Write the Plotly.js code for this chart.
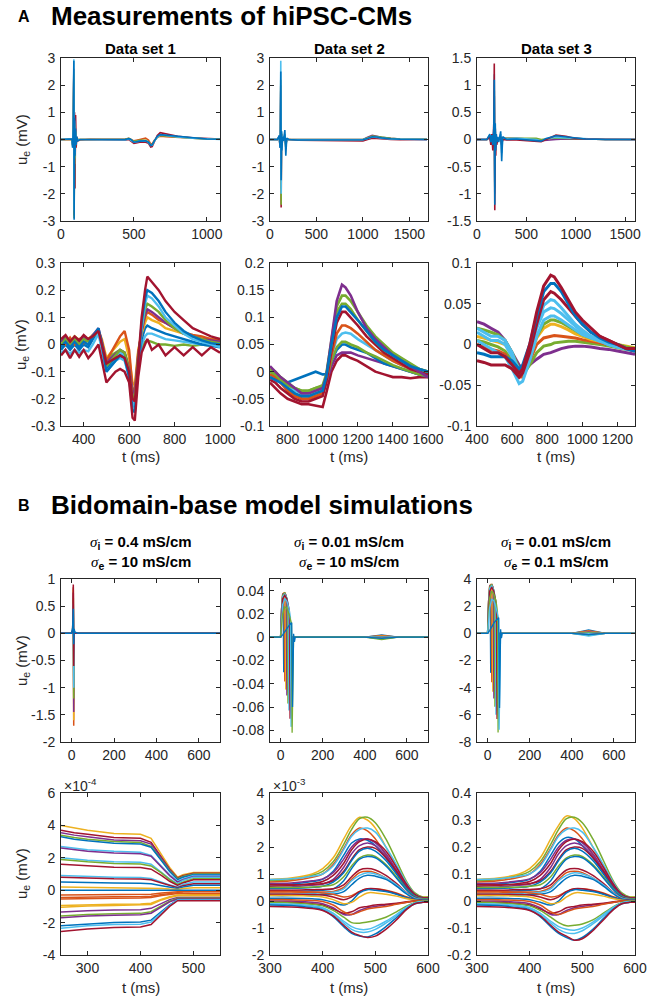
<!DOCTYPE html>
<html><head><meta charset="utf-8">
<script src="https://cdn.plot.ly/plotly-3.0.1.min.js"></script>
<style>html,body{margin:0;padding:0;background:#fff}#chart{width:650px;height:998px}</style>
</head><body><div id="chart"></div>
<script>
// ================= DATA =================
// ---- A1: Data set 1, full recording ----
const a1T = [0,60,75,80,84,88,90,93,96,100,104,108,115,130,200,300,440,465,480,500,540,580,600,615,625,640,660,680,720,800,900,1000,1090];
const a1Red    = [0,-0.02,0,-0.2,0.3,2.6,-2.0,1.0,-1.8,0.9,-0.3,0.1,-0.05,-0.02,0,-0.02,-0.03,0,-0.06,-0.14,-0.1,-0.1,-0.14,-0.28,-0.26,-0.1,0.15,0.25,0.2,0.12,0.06,0.03,0.02];
const a1Orange = [0,0,0.01,-0.2,0.3,2.4,-2.8,0.5,-0.9,0.3,-0.1,0.05,0,0,0.01,0.01,0.02,0.04,0,-0.05,0,0.05,-0.02,-0.16,-0.15,-0.03,0.08,0.12,0.1,0.07,0.04,0.02,0.015];
const a1Green  = [0,0,0.01,-0.25,0.35,2.5,-2.9,0.6,-0.7,0.3,-0.15,0.05,0,0,0,0,0.01,0.04,0,-0.07,-0.03,-0.03,-0.09,-0.2,-0.19,-0.05,0.08,0.15,0.13,0.09,0.05,0.02,0.01];
const a1Cyan   = [0,0,0.02,-0.3,0.4,2.95,-2.6,0.7,-0.5,0.3,-0.1,0.05,0,0,0,0,-0.02,0.02,-0.02,-0.1,-0.06,-0.05,-0.1,-0.22,-0.21,-0.06,0.08,0.17,0.15,0.09,0.05,0.02,0];
const a1Blue   = [0,0,0.02,-0.3,0.4,2.9,-2.95,0.8,-0.6,0.4,-0.2,0.1,-0.05,0,0,0,0,0.03,0,-0.1,-0.06,-0.05,-0.1,-0.22,-0.2,-0.05,0.12,0.18,0.16,0.1,0.05,0.02,0.01];
const a1Series = [a1Red,a1Orange,a1Green,a1Cyan,a1Blue];
const a1Colors = ['r','o','g','c','b'];

// ---- A2: Data set 2, full recording ----
const a2T = [0,80,100,108,112,116,120,124,128,135,145,160,170,180,200,300,600,900,1000,1050,1100,1150,1200,1300,1400,1690];
const a2Purple = [0,0,0.1,-0.2,0.1,1.8,-1.8,0.2,-0.3,0.05,0,0.1,-0.2,0,0,0,0,-0.02,0,0.08,0.15,0.12,0.08,0.04,0.02,0];
const a2Red    = [0,0,0.1,-0.3,0.1,2.0,-2.5,0.2,-0.3,0.1,0,0.1,-0.2,0,0,-0.03,-0.05,-0.06,-0.05,0,0.05,0.04,0.02,0,-0.01,0];
const a2Green  = [0,0,0.1,-0.25,0.15,2.2,-2.4,0.25,-0.3,0.1,0,0.15,-0.3,0.02,0,0,-0.01,-0.02,0,0.06,0.13,0.11,0.08,0.04,0.02,0.01];
const a2Cyan   = [0,0,0.12,-0.3,0.2,2.9,-2.0,0.3,-0.35,0.1,0,0.2,-0.3,0.02,0,-0.01,-0.02,-0.03,-0.01,0.04,0.09,0.08,0.05,0.02,0.01,0];
const a2Blue   = [0,0,0.15,-0.3,0.2,2.5,-1.5,0.3,-0.4,0.1,-0.05,0.35,-0.6,0.05,0,-0.02,-0.02,-0.03,-0.01,0.04,0.1,0.09,0.06,0.03,0.01,0];
const a2Series = [a2Purple,a2Red,a2Green,a2Cyan,a2Blue];
const a2Colors = ['p','r','g','c','b'];

// ---- A3: Data set 3, full recording ----
const a3T = [0,100,130,140,150,160,170,175,180,185,190,195,200,210,220,240,250,260,300,400,500,600,650,700,800,900,1000,1100,1300,1600];
const a3Purple = [0,0,0.03,-0.03,0.03,-0.05,0.1,0.8,-0.8,0.1,-0.1,0.05,0,0.01,0,0.03,-0.05,0.01,0.02,0.02,0.01,0,-0.02,-0.01,0,0.01,0.01,0,0,0];
const a3Green  = [0,0,0.05,-0.03,0.05,-0.05,0.1,0.9,-0.9,0.15,-0.1,0.05,0,0.02,0,0.05,-0.1,0.02,0.02,0.03,0.03,0.02,0,0.01,0.03,0.02,0.01,0.01,0,0];
const a3Cyan   = [0,0,0.08,-0.05,0.05,-0.1,0.15,1.2,-1.0,0.2,-0.15,0.05,-0.05,0.02,0,0.1,-0.25,0.02,0.01,0.02,0.01,0,-0.03,0.01,0.04,0.03,0.02,0.01,0,0];
const a3Red    = [0,0,0.05,-0.1,0.1,-0.2,0.3,1.4,-1.3,0.2,-0.3,0.1,-0.1,0,0,0.05,-0.1,0,-0.01,-0.01,-0.02,-0.03,-0.04,0,0.08,0.06,0.02,0.01,0,0];
const a3Blue   = [0,0,0.1,-0.05,0.08,-0.1,0.2,1.1,-1.2,0.3,-0.2,0.1,-0.05,0.05,-0.05,0.15,-0.4,0.05,0,0.01,0,-0.02,-0.03,0.02,0.07,0.05,0.02,0.01,0,0];
const a3Series = [a3Purple,a3Green,a3Cyan,a3Red,a3Blue];
const a3Colors = ['p','g','c','r','b'];

// ---- A4: Data set 1, zoom ----
const a4T = [300,320,340,360,380,400,420,440,465,480,500,520,540,560,580,600,615,625,640,655,670,680,700,730,760,800,840,880,920,960,1000];
const a4Green2 = [0.015,0.03,0.01,0.03,0.015,0.03,0.02,0.03,0.05,0,-0.06,-0.04,-0.03,-0.02,-0.03,-0.08,-0.18,-0.19,-0.06,-0.01,0.01,0.015,0.01,0,0,-0.005,0,-0.005,0,-0.005,0];
const a4Cyan2  = [-0.01,0.01,-0.015,0.01,-0.01,0.01,-0.005,0.02,0.045,-0.01,-0.08,-0.06,-0.04,-0.03,-0.04,-0.1,-0.2,-0.21,-0.06,0,0.03,0.04,0.04,0.03,0.02,0.015,0.01,0.005,0,0,-0.005];
const a4Blue2  = [-0.02,0,-0.02,0,-0.02,0,-0.01,0.02,0.05,-0.01,-0.09,-0.07,-0.05,-0.04,-0.05,-0.11,-0.22,-0.23,-0.08,0.02,0.06,0.07,0.06,0.05,0.04,0.03,0.02,0.01,0,-0.005,-0.01];
const a4Yellow = [0.01,0.03,0.01,0.03,0.015,0.03,0.02,0.035,0.05,0.02,-0.05,-0.03,-0.01,0.01,0.02,-0.05,-0.14,-0.15,-0.02,0.04,0.08,0.1,0.09,0.08,0.06,0.05,0.04,0.03,0.025,0.02,0.02];
const a4Orange = [0.02,0,0.025,0,0.02,0.005,0.02,0.03,0.05,0.01,-0.06,-0.03,0,0.03,0.05,-0.02,-0.16,-0.17,-0.03,0.05,0.1,0.12,0.11,0.09,0.08,0.06,0.045,0.035,0.03,0.02,0.015];
const a4Purple = [0.01,0.025,0.005,0.025,0.01,0.025,0.015,0.035,0.06,0.01,-0.07,-0.05,-0.035,-0.02,-0.03,-0.09,-0.17,-0.18,-0.04,0.05,0.11,0.13,0.12,0.1,0.08,0.06,0.04,0.03,0.02,0.015,0.01];
const a4Green1 = [0,0.02,0,0.02,0,0.02,0.01,0.03,0.05,0,-0.08,-0.06,-0.04,-0.02,-0.03,-0.1,-0.19,-0.2,-0.05,0.06,0.13,0.15,0.14,0.12,0.09,0.06,0.04,0.03,0.02,0.01,0.005];
const a4Cyan1  = [-0.03,-0.02,-0.035,-0.02,-0.03,-0.02,-0.025,0,0.04,-0.02,-0.1,-0.08,-0.06,-0.05,-0.06,-0.12,-0.22,-0.23,-0.07,0.06,0.15,0.18,0.17,0.14,0.1,0.07,0.04,0.02,0.01,0,-0.01];
const a4Blue1  = [-0.01,0.01,-0.01,0.01,-0.01,0.01,0,0.03,0.06,0,-0.1,-0.08,-0.06,-0.04,-0.05,-0.12,-0.24,-0.25,-0.08,0.08,0.17,0.2,0.19,0.16,0.12,0.08,0.05,0.03,0.015,0.005,0];
const a4Red1   = [0.02,0.035,0.01,0.03,0.015,0.035,0.02,0.03,0.05,0,-0.07,-0.06,-0.05,-0.04,-0.05,-0.1,-0.2,-0.21,-0.06,0.1,0.2,0.25,0.23,0.2,0.16,0.12,0.09,0.06,0.045,0.03,0.02];
const a4Red2   = [-0.04,-0.02,-0.05,-0.02,-0.045,-0.02,-0.05,-0.03,0,-0.06,-0.14,-0.12,-0.1,-0.09,-0.1,-0.14,-0.27,-0.28,-0.12,-0.03,0,0.02,-0.02,0,-0.04,-0.01,-0.04,-0.01,-0.04,-0.01,-0.03];
const a4Series = [a4Green2,a4Cyan2,a4Blue2,a4Yellow,a4Orange,a4Purple,a4Green1,a4Cyan1,a4Blue1,a4Red1,a4Red2];
const a4Colors = ['g','c','b','y','o','p','g','c','b','r','r'];

// ---- A5: Data set 2, zoom ----
const a5T = [700,730,760,800,840,880,920,960,1000,1020,1050,1080,1110,1130,1160,1200,1250,1300,1350,1400,1450,1500,1550,1600];
const a5Red2   = [-0.02,-0.03,-0.04,-0.05,-0.055,-0.06,-0.06,-0.063,-0.065,-0.04,0,0.02,0.03,0.03,0.025,0.02,0.01,0,-0.005,-0.01,-0.01,-0.012,-0.01,-0.01];
const a5Purple2= [0,-0.005,-0.015,-0.03,-0.04,-0.05,-0.05,-0.045,-0.04,-0.02,0.01,0.03,0.035,0.035,0.035,0.03,0.025,0.02,0.015,0.01,0.005,0,-0.005,-0.01];
const a5Blue2  = [-0.01,-0.015,-0.02,-0.02,-0.015,-0.01,-0.005,0,-0.005,-0.005,0.02,0.04,0.05,0.05,0.045,0.04,0.035,0.025,0.015,0.01,0.005,0,-0.005,-0.008];
const a5Green3 = [-0.005,-0.01,-0.02,-0.03,-0.04,-0.045,-0.045,-0.04,-0.035,-0.015,0.02,0.045,0.055,0.055,0.05,0.045,0.035,0.028,0.02,0.012,0.006,0,-0.005,-0.008];
const a5Cyan1  = [0,-0.005,-0.015,-0.025,-0.035,-0.04,-0.04,-0.035,-0.03,-0.01,0.03,0.06,0.07,0.072,0.07,0.06,0.05,0.04,0.03,0.02,0.012,0.005,0,-0.005];
const a5Orange = [-0.005,-0.01,-0.02,-0.035,-0.045,-0.05,-0.05,-0.045,-0.04,-0.02,0.03,0.07,0.085,0.085,0.08,0.07,0.055,0.04,0.03,0.02,0.012,0.005,0,-0.005];
const a5Red1   = [-0.015,-0.02,-0.03,-0.04,-0.05,-0.055,-0.055,-0.05,-0.045,-0.02,0.04,0.09,0.11,0.11,0.1,0.085,0.065,0.05,0.035,0.025,0.015,0.005,0,-0.005];
const a5Green2 = [0.005,0,-0.01,-0.02,-0.03,-0.035,-0.035,-0.03,-0.028,-0.01,0.05,0.11,0.125,0.125,0.115,0.095,0.075,0.055,0.04,0.03,0.02,0.01,0.005,0];
const a5Green1 = [0,-0.005,-0.015,-0.025,-0.03,-0.035,-0.035,-0.03,-0.025,-0.005,0.06,0.12,0.14,0.14,0.13,0.11,0.085,0.065,0.05,0.035,0.025,0.015,0.005,0];
const a5Purple1= [0.01,0,-0.01,-0.02,-0.03,-0.04,-0.04,-0.035,-0.03,-0.01,0.06,0.13,0.16,0.155,0.14,0.11,0.08,0.06,0.045,0.03,0.02,0.01,0,-0.01];
const a5Blue1  = [-0.01,-0.015,-0.02,-0.03,-0.04,-0.045,-0.045,-0.04,-0.035,-0.01,0.05,0.1,0.12,0.12,0.11,0.095,0.075,0.055,0.04,0.03,0.02,0.01,0.005,0];
const a5Series = [a5Red2,a5Purple2,a5Blue2,a5Green3,a5Cyan1,a5Orange,a5Red1,a5Green2,a5Green1,a5Purple1,a5Blue1];
const a5Colors = ['r','p','b','g','c','o','r','g','g','p','b'];

// ---- A6: Data set 3, zoom ----
const a6T = [400,440,480,520,560,600,640,660,700,740,780,820,840,880,920,960,1000,1050,1100,1150,1200,1250,1300];
const a6Purple = [0.028,0.025,0.02,0.015,0.005,-0.01,-0.025,-0.03,-0.025,-0.018,-0.012,-0.01,-0.008,-0.005,-0.003,-0.002,-0.002,-0.003,-0.005,-0.006,-0.008,-0.01,-0.012];
const a6Green2 = [0.005,0.003,0,-0.003,-0.008,-0.02,-0.035,-0.038,-0.025,-0.01,-0.002,0,0.002,0.003,0.004,0.004,0.003,0.002,0,-0.002,-0.004,-0.006,-0.008];
const a6Orange = [0,-0.003,-0.006,-0.008,-0.012,-0.025,-0.04,-0.04,-0.02,0,0.008,0.01,0.011,0.01,0.009,0.008,0.006,0.004,0.002,0,-0.002,-0.004,-0.005];
const a6Yellow = [0.01,0.008,0.005,0.003,0,-0.012,-0.035,-0.035,-0.015,0.008,0.02,0.025,0.025,0.022,0.018,0.013,0.01,0.006,0.004,0.002,0,-0.002,-0.004];
const a6Green1 = [0.02,0.018,0.015,0.012,0.005,-0.01,-0.03,-0.03,-0.01,0.01,0.025,0.03,0.03,0.027,0.022,0.017,0.012,0.008,0.005,0.002,0,-0.003,-0.005];
const a6Cyan3  = [0.005,0,-0.005,-0.01,-0.015,-0.03,-0.048,-0.045,-0.02,0.01,0.03,0.035,0.035,0.03,0.024,0.018,0.012,0.008,0.004,0,-0.003,-0.006,-0.008];
const a6Cyan2  = [0.02,0.015,0.01,0.01,0.005,-0.01,-0.035,-0.035,-0.01,0.02,0.04,0.045,0.044,0.038,0.03,0.022,0.015,0.01,0.005,0,-0.003,-0.005,-0.008];
const a6Cyan1  = [0.015,0.01,0.005,0.005,0,-0.015,-0.03,-0.028,-0.005,0.025,0.048,0.055,0.054,0.045,0.035,0.025,0.018,0.01,0.005,0,-0.003,-0.005,-0.008];
const a6Red2   = [-0.02,-0.022,-0.025,-0.025,-0.025,-0.03,-0.04,-0.035,-0.01,0.025,0.055,0.065,0.063,0.055,0.045,0.035,0.025,0.015,0.01,0.005,0,-0.005,-0.008];
const a6Blue1  = [-0.01,-0.012,-0.015,-0.015,-0.015,-0.02,-0.03,-0.025,0,0.035,0.065,0.075,0.075,0.065,0.05,0.035,0.025,0.015,0.008,0.003,0,-0.005,-0.008];
const a6Red1   = [0,-0.005,-0.01,-0.01,-0.015,-0.025,-0.035,-0.03,0,0.04,0.072,0.085,0.083,0.07,0.055,0.04,0.03,0.02,0.01,0.005,0,-0.005,-0.005];
const a6Series = [a6Purple,a6Green2,a6Orange,a6Yellow,a6Green1,a6Cyan3,a6Cyan2,a6Cyan1,a6Red2,a6Blue1,a6Red1];
const a6Colors = ['p','g','o','y','g','c','c','c','r','b','r'];

// ---- B1: sigma_i 0.4, sigma_e 10 (full) ----
const b1T = [-50,0,5,8,10,12,15,30,700];
const b1Series = [
  [0,0,0.05,0.85,-1.7,0.05,0,0,0],
  [0,0,0.05,0.8,-1.6,0.05,0,0,0],
  [0,0,0.05,0.75,-1.45,0.05,0,0,0],
  [0,0,0.05,0.65,-1.2,0.05,0,0,0],
  [0,0,0.05,0.55,-1.0,0.05,0,0,0],
  [0,0,0.05,0.9,-0.6,0.05,0,0,0],
  [0,0,0.1,0.45,-0.2,0.08,0.02,0,0]
];
const b1Colors = ['o','y','p','g','c','r','b'];

// ---- B2: sigma_i 0.01, sigma_e 10 (full) ----
const b2X = [
  [-50,0,5,10,12,15,60,400,480,560,700],
  [-50,0,5,10,17,20,60,400,480,560,700],
  [-50,0,5,10,15,22,25,60,400,480,560,700],
  [-50,0,5,10,20,27,30,60,400,480,560,700],
  [-50,0,5,10,20,32,35,60,400,480,560,700],
  [-50,0,5,10,20,30,37,40,60,400,480,560,700],
  [-50,0,5,10,20,30,42,45,60,400,480,560,700],
  [-50,0,5,10,20,30,40,47,50,60,400,480,560,700],
  [-50,0,5,10,20,30,40,52,55,62,400,480,560,700],
  [-50,0,10,20,30,40,50,53,57,62,66,70,100,400,480,560,700]
];
const b2Y = [
  [0,0,0.025,0.037,0.037,-0.03,0,0,0.002,0,0],
  [0,0,0.025,0.037,0.038,-0.038,0,0,0.0015,0,0],
  [0,0,0.025,0.037,0.038,0.038,-0.045,0,0,0.001,0,0],
  [0,0,0.025,0.037,0.038,0.036,-0.05,0,0,0.0005,0,0],
  [0,0,0.024,0.036,0.038,0.033,-0.057,0,0,0,0,0],
  [0,0,0.022,0.035,0.037,0.034,0.028,-0.063,0,0,-0.0005,0,0],
  [0,0,0.02,0.033,0.036,0.033,0.023,-0.07,0,0,-0.001,0,0],
  [0,0,0.015,0.028,0.033,0.031,0.025,0.017,-0.077,0,0,-0.0015,0,0],
  [0,0,0.01,0.02,0.026,0.025,0.02,0.012,-0.082,0,0,-0.002,0,0],
  [0,0,0.002,0.005,0.008,0.01,0.012,0.012,-0.06,0.003,-0.004,0,0,0,-0.001,0,0]
];
const b2Colors = ['b','o','y','p','g','c','r','c','g','b'];

// ---- B3: sigma_i 0.01, sigma_e 0.1 (full) ----
const b3X = b2X;
const b3Y = [
  [0,0,2.4,3.5,3.5,-2.9,0,0,0.25,0,0],
  [0,0,2.4,3.5,3.6,-3.6,0,0,0.2,0,0],
  [0,0,2.4,3.5,3.6,3.6,-4.3,0,0,0.15,0,0],
  [0,0,2.4,3.5,3.6,3.4,-4.8,0,0,0.1,0,0],
  [0,0,2.3,3.4,3.6,3.1,-5.4,0,0,0.05,0,0],
  [0,0,2.1,3.3,3.5,3.2,2.6,-6.0,0,0,-0.05,0,0],
  [0,0,1.9,3.1,3.4,3.1,2.2,-6.3,0,0,-0.1,0,0],
  [0,0,1.4,2.6,3.1,2.9,2.4,1.6,-7.3,0,0,-0.15,0,0],
  [0,0,0.9,1.9,2.5,2.4,1.9,1.15,-7.1,0,0,-0.2,0,0],
  [0,0,0.2,0.5,0.75,0.95,1.15,1.15,-5.5,0.3,-0.35,0,0,0,-0.1,0,0]
];
const b3Colors = ['b','o','y','p','g','c','r','g','c','b'];

// ---- B4: zoom, values in units of 1e-4 mV ----
const b4T = [250,275,300,350,400,420,440,455,470,480,500,550];
const b4Series = [
  [4.0,3.85,3.7,3.5,3.45,3.2,2.2,1.4,0.8,0.95,1.1,1.1],
  [3.7,3.55,3.45,3.25,3.2,2.95,2.0,1.3,0.75,0.9,1.05,1.05],
  [3.55,3.4,3.3,3.1,3.05,2.85,1.95,1.25,0.7,0.85,1.0,1.0],
  [3.4,3.25,3.15,3.0,2.95,2.7,1.85,1.2,0.7,0.85,1.0,1.0],
  [3.3,3.15,3.05,2.9,2.85,2.65,1.8,1.15,0.65,0.8,0.95,0.95],
  [2.7,2.6,2.5,2.4,2.35,2.15,1.5,0.95,0.55,0.7,0.9,0.9],
  [2.6,2.5,2.4,2.3,2.25,2.1,1.45,0.9,0.5,0.65,0.85,0.85],
  [2.0,1.92,1.85,1.75,1.72,1.6,1.1,0.7,0.4,0.6,0.8,0.8],
  [1.9,1.82,1.75,1.65,1.62,1.5,1.05,0.65,0.35,0.5,0.7,0.7],
  [1.6,1.55,1.5,1.42,1.4,1.3,0.9,0.55,0.3,0.45,0.65,0.65],
  [0.9,0.87,0.84,0.8,0.78,0.72,0.5,0.32,0.2,0.35,0.5,0.5],
  [0.8,0.77,0.74,0.7,0.69,0.64,0.45,0.28,0.15,0.28,0.4,0.4],
  [0.5,0.48,0.46,0.44,0.43,0.4,0.28,0.18,0.1,0.2,0.3,0.3],
  [0.2,0.19,0.18,0.17,0.17,0.16,0.11,0.07,0.05,0.1,0.15,0.15],
  [0,0,0,0,0,0,0,0,0,0,0,0],
  [-0.3,-0.29,-0.28,-0.27,-0.27,-0.25,-0.18,-0.13,-0.1,-0.1,-0.1,-0.1],
  [-0.45,-0.43,-0.42,-0.4,-0.4,-0.37,-0.27,-0.2,-0.15,-0.18,-0.2,-0.2],
  [-0.55,-0.53,-0.51,-0.49,-0.48,-0.45,-0.33,-0.25,-0.2,-0.22,-0.25,-0.25],
  [-0.95,-0.92,-0.9,-0.86,-0.85,-0.8,-0.55,-0.4,-0.3,-0.3,-0.3,-0.3],
  [-1.05,-1.0,-0.98,-0.94,-0.93,-0.88,-0.6,-0.45,-0.35,-0.35,-0.35,-0.35],
  [-1.35,-1.3,-1.27,-1.22,-1.2,-1.12,-0.8,-0.58,-0.45,-0.45,-0.45,-0.45],
  [-1.6,-1.55,-1.5,-1.45,-1.43,-1.33,-0.95,-0.68,-0.5,-0.5,-0.5,-0.5],
  [-1.7,-1.65,-1.6,-1.55,-1.52,-1.42,-1.0,-0.72,-0.55,-0.55,-0.55,-0.55],
  [-2.2,-2.15,-2.08,-2.0,-1.97,-1.85,-1.3,-0.9,-0.6,-0.6,-0.6,-0.6],
  [-2.35,-2.28,-2.2,-2.12,-2.1,-1.97,-1.38,-0.95,-0.6,-0.6,-0.6,-0.6],
  [-2.55,-2.47,-2.4,-2.3,-2.27,-2.12,-1.48,-1.0,-0.65,-0.65,-0.65,-0.65]
];
const b4Colors = ['y','r','p','g','b','c','p','c','g','r','c','r','b','y','b','o','o','o','y','y','p','g','p','b','c','r'];

// ---- B5: zoom, values in units of 1e-3 mV ----
const b5T = [300,340,380,400,420,440,455,470,485,500,520,540,560,575,590,600];
const b5Series = [
  [0.8,0.85,1.0,1.2,1.6,2.3,2.8,3.1,3.0,2.7,2.0,1.3,0.6,0.25,0.15,0.15],
  [0.75,0.8,0.95,1.1,1.45,2.1,2.65,3.05,3.1,2.9,2.3,1.5,0.7,0.3,0.15,0.15],
  [0.7,0.75,0.88,1.0,1.35,1.95,2.45,2.7,2.6,2.3,1.7,1.1,0.5,0.2,0.12,0.12],
  [0.8,0.82,0.92,1.0,1.3,1.9,2.4,2.65,2.7,2.55,2.0,1.35,0.65,0.25,0.12,0.12],
  [0.6,0.63,0.72,0.8,1.1,1.7,2.15,2.3,2.25,2.05,1.6,1.05,0.5,0.2,0.1,0.1],
  [0.65,0.67,0.75,0.82,1.05,1.55,2.0,2.25,2.3,2.15,1.75,1.15,0.55,0.22,0.12,0.12],
  [0.55,0.57,0.65,0.72,0.95,1.4,1.9,2.2,2.3,2.2,1.85,1.25,0.6,0.25,0.12,0.12],
  [0.5,0.52,0.58,0.62,0.8,1.25,1.75,2.05,2.15,2.05,1.65,1.1,0.5,0.2,0.1,0.1],
  [0.6,0.6,0.62,0.65,0.75,1.1,1.55,1.9,2.0,1.95,1.6,1.1,0.5,0.2,0.1,0.1],
  [0.45,0.46,0.5,0.55,0.7,1.05,1.5,1.85,1.95,1.85,1.5,1.0,0.45,0.18,0.08,0.08],
  [0.5,0.5,0.52,0.55,0.6,0.9,1.3,1.6,1.7,1.65,1.35,0.9,0.42,0.17,0.08,0.08],
  [0.35,0.36,0.38,0.4,0.45,0.75,1.2,1.55,1.65,1.6,1.3,0.85,0.4,0.15,0.06,0.06],
  [0.4,0.4,0.42,0.43,0.45,0.6,0.9,1.15,1.2,1.15,0.95,0.65,0.3,0.12,0.05,0.05],
  [0.3,0.3,0.32,0.33,0.35,0.5,0.8,1.05,1.1,1.05,0.85,0.6,0.28,0.1,0.05,0.05],
  [0.25,0.26,0.28,0.3,0.32,0.45,0.75,0.95,1.05,1.0,0.85,0.6,0.28,0.1,0.05,0.05],
  [0.2,0.2,0.22,0.24,0.25,0.35,0.6,0.85,0.95,0.92,0.8,0.55,0.25,0.08,0.04,0.04],
  [0.35,0.35,0.33,0.3,0.25,0.15,0.2,0.35,0.45,0.45,0.4,0.3,0.15,0.05,0.02,0.02],
  [0.25,0.25,0.24,0.22,0.15,0.05,0.15,0.35,0.45,0.45,0.38,0.27,0.12,0.05,0.02,0.02],
  [0.1,0.1,0.08,0.05,-0.05,-0.15,0,0.3,0.42,0.4,0.35,0.25,0.12,0.04,0.02,0.02],
  [0.2,0.2,0.18,0.15,0.05,-0.1,-0.05,0.15,0.3,0.3,0.25,0.18,0.08,0.03,0,0],
  [0,0,-0.05,-0.1,-0.25,-0.5,-0.5,-0.35,-0.25,-0.2,-0.15,-0.1,-0.05,0,0,0],
  [-0.05,-0.05,-0.1,-0.15,-0.3,-0.45,-0.4,-0.25,-0.2,-0.15,-0.12,-0.08,-0.03,0,0,0],
  [0.05,0.05,0.02,-0.02,-0.15,-0.4,-0.5,-0.4,-0.3,-0.25,-0.2,-0.12,-0.05,0,0,0],
  [-0.05,-0.07,-0.12,-0.18,-0.35,-0.6,-0.8,-0.82,-0.78,-0.72,-0.6,-0.4,-0.18,-0.05,0,0],
  [-0.1,-0.12,-0.18,-0.25,-0.45,-0.75,-0.95,-1.05,-1.05,-0.95,-0.75,-0.5,-0.22,-0.07,-0.02,-0.02],
  [-0.12,-0.14,-0.2,-0.28,-0.5,-0.82,-1.05,-1.15,-1.15,-1.05,-0.82,-0.55,-0.25,-0.08,-0.03,-0.03],
  [-0.15,-0.17,-0.25,-0.33,-0.58,-0.95,-1.2,-1.3,-1.33,-1.22,-0.95,-0.62,-0.28,-0.1,-0.05,-0.05],
  [-0.2,-0.22,-0.28,-0.35,-0.55,-0.9,-1.15,-1.28,-1.35,-1.3,-1.05,-0.7,-0.3,-0.1,-0.05,-0.05]
];
const b5Colors = ['y','g','o','c','b','p','r','p','r','b','g','b','r','o','c','b','o','r','b','y','p','r','o','g','c','c','b','r'];

// ---- B6: zoom, values in mV ----
const b6T = b5T;
const b6Series = [
  [0.08,0.085,0.1,0.12,0.16,0.23,0.28,0.315,0.305,0.27,0.2,0.13,0.06,0.025,0.015,0.015],
  [0.075,0.08,0.095,0.11,0.145,0.21,0.265,0.305,0.31,0.29,0.23,0.15,0.07,0.03,0.015,0.015],
  [0.07,0.075,0.088,0.1,0.135,0.195,0.245,0.27,0.26,0.23,0.17,0.11,0.05,0.02,0.012,0.012],
  [0.08,0.082,0.092,0.1,0.13,0.19,0.24,0.265,0.27,0.255,0.2,0.135,0.065,0.025,0.012,0.012],
  [0.06,0.063,0.072,0.08,0.11,0.17,0.215,0.235,0.23,0.205,0.16,0.105,0.05,0.02,0.01,0.01],
  [0.065,0.067,0.075,0.082,0.105,0.155,0.2,0.225,0.23,0.215,0.175,0.115,0.055,0.022,0.012,0.012],
  [0.055,0.057,0.065,0.072,0.095,0.14,0.19,0.22,0.23,0.22,0.185,0.125,0.06,0.025,0.012,0.012],
  [0.05,0.052,0.058,0.062,0.08,0.125,0.175,0.205,0.215,0.205,0.165,0.11,0.05,0.02,0.01,0.01],
  [0.06,0.06,0.062,0.065,0.075,0.11,0.155,0.19,0.2,0.195,0.16,0.11,0.05,0.02,0.01,0.01],
  [0.045,0.046,0.05,0.055,0.07,0.105,0.15,0.185,0.195,0.185,0.15,0.1,0.045,0.018,0.008,0.008],
  [0.05,0.05,0.052,0.055,0.06,0.09,0.13,0.16,0.17,0.165,0.135,0.09,0.042,0.017,0.008,0.008],
  [0.035,0.036,0.038,0.04,0.045,0.075,0.12,0.155,0.165,0.16,0.13,0.085,0.04,0.015,0.006,0.006],
  [0.04,0.04,0.042,0.043,0.045,0.06,0.09,0.115,0.12,0.115,0.095,0.065,0.03,0.012,0.005,0.005],
  [0.03,0.03,0.032,0.033,0.035,0.05,0.08,0.105,0.11,0.105,0.085,0.06,0.028,0.01,0.005,0.005],
  [0.025,0.026,0.028,0.03,0.032,0.045,0.075,0.095,0.105,0.1,0.085,0.06,0.028,0.01,0.005,0.005],
  [0.02,0.02,0.022,0.024,0.025,0.035,0.06,0.085,0.095,0.092,0.08,0.055,0.025,0.008,0.004,0.004],
  [0.035,0.035,0.033,0.03,0.025,0.015,0.02,0.035,0.045,0.045,0.04,0.03,0.015,0.005,0.002,0.002],
  [0.025,0.025,0.024,0.022,0.015,0.005,0.015,0.035,0.045,0.045,0.038,0.027,0.012,0.005,0.002,0.002],
  [0.01,0.01,0.008,0.005,-0.005,-0.015,0,0.03,0.042,0.04,0.035,0.025,0.012,0.004,0.002,0.002],
  [0.02,0.02,0.018,0.015,0.005,-0.01,-0.005,0.015,0.03,0.03,0.025,0.018,0.008,0.003,0,0],
  [0,0,-0.005,-0.01,-0.025,-0.05,-0.05,-0.035,-0.025,-0.02,-0.015,-0.01,-0.005,0,0,0],
  [-0.005,-0.005,-0.01,-0.015,-0.03,-0.045,-0.04,-0.025,-0.02,-0.015,-0.012,-0.008,-0.003,0,0,0],
  [0.005,0.005,0.002,-0.002,-0.015,-0.04,-0.05,-0.04,-0.03,-0.025,-0.02,-0.012,-0.005,0,0,0],
  [-0.005,-0.007,-0.012,-0.018,-0.035,-0.06,-0.08,-0.092,-0.09,-0.085,-0.07,-0.045,-0.02,-0.005,0,0],
  [-0.01,-0.012,-0.018,-0.025,-0.045,-0.075,-0.095,-0.105,-0.108,-0.1,-0.078,-0.05,-0.022,-0.007,-0.002,-0.002],
  [-0.012,-0.014,-0.02,-0.028,-0.05,-0.082,-0.105,-0.118,-0.12,-0.11,-0.085,-0.055,-0.025,-0.008,-0.003,-0.003],
  [-0.015,-0.017,-0.025,-0.033,-0.058,-0.095,-0.12,-0.135,-0.145,-0.135,-0.105,-0.065,-0.028,-0.01,-0.005,-0.005],
  [-0.02,-0.022,-0.028,-0.035,-0.055,-0.09,-0.115,-0.13,-0.145,-0.14,-0.11,-0.07,-0.03,-0.01,-0.005,-0.005]
];
const b6Colors = b5Colors;

// ---- tick values / labels ----
const tA1x=[0,500,1000], tA1xL=['0','500','1000'];
const tA2x=[0,500,1000,1500], tA2xL=['0','500','1000','1500'];
const tA12y=[-3,-2,-1,0,1,2,3], tA12yL=['-3','-2','-1','0','1','2','3'];
const tA3y=[-1.5,-1,-0.5,0,0.5,1,1.5], tA3yL=['-1.5','-1','-0.5','0','0.5','1','1.5'];
const tA4x=[400,600,800,1000], tA4xL=['400','600','800','1000'];
const tA4y=[-0.3,-0.2,-0.1,0,0.1,0.2,0.3], tA4yL=['-0.3','-0.2','-0.1','0','0.1','0.2','0.3'];
const tA5x=[800,1000,1200,1400,1600], tA5xL=['800','1000','1200','1400','1600'];
const tA5y=[-0.1,-0.05,0,0.05,0.1,0.15,0.2], tA5yL=['-0.1','-0.05','0','0.05','0.1','0.15','0.2'];
const tA6x=[400,600,800,1000,1200], tA6xL=['400','600','800','1000','1200'];
const tA6y=[-0.1,-0.05,0,0.05,0.1], tA6yL=['-0.1','-0.05','0','0.05','0.1'];
const tB1x=[0,200,400,600], tB1xL=['0','200','400','600'];
const tB1y=[-2,-1.5,-1,-0.5,0,0.5,1], tB1yL=['-2','-1.5','-1','-0.5','0','0.5','1'];
const tB2y=[-0.08,-0.06,-0.04,-0.02,0,0.02,0.04], tB2yL=['-0.08','-0.06','-0.04','-0.02','0','0.02','0.04'];
const tB3y=[-8,-6,-4,-2,0,2,4], tB3yL=['-8','-6','-4','-2','0','2','4'];
const tB4x=[300,400,500], tB4xL=['300','400','500'];
const tB4y=[-4,-2,0,2,4,6], tB4yL=['-4','-2','0','2','4','6'];
const tB5x=[300,400,500,600], tB5xL=['300','400','500','600'];
const tB5y=[-2,-1,0,1,2,3,4], tB5yL=['-2','-1','0','1','2','3','4'];
const tB6y=[-0.2,-0.1,0,0.1,0.2,0.3,0.4], tB6yL=['-0.2','-0.1','0','0.1','0.2','0.3','0.4'];

// ================= DRAWING =================
const COL = {b:'#0072BD',o:'#D95319',y:'#EDB120',p:'#7E2F8E',g:'#77AC30',c:'#4DBEEE',r:'#A2142F'};
const W=650, H=998;
const FONT='"Liberation Sans", Arial, Helvetica, sans-serif';
const colPx=[[61,220],[270,428],[477,635]];
const rowPx=[[58,221],[263,426],[579,742],[793,955]];
const traces=[];
function ax(n){return n===1?'':String(n);}
function addSeries(n, xs, ysList, colors, width, shape){
  ysList.forEach((y,i)=>{
    traces.push({type:'scatter',mode:'lines',x:Array.isArray(xs[0])?xs[i]:xs,y:y,
      xaxis:'x'+ax(n),yaxis:'y'+ax(n),hoverinfo:'skip',showlegend:false,
      line:{color:COL[colors[i]],width:width,shape:shape||'linear'}});
  });
}
addSeries(1,a1T,a1Series,a1Colors,1.6);
addSeries(2,a2T,a2Series,a2Colors,1.6);
addSeries(3,a3T,a3Series,a3Colors,1.6);
addSeries(4,a4T,a4Series,a4Colors,2.4);
addSeries(5,a5T,a5Series,a5Colors,2.6);
addSeries(6,a6T,a6Series,a6Colors,3);
addSeries(7,b1T,b1Series,b1Colors,1.5);
addSeries(8,b2X,b2Y,b2Colors,1.3);
addSeries(9,b3X,b3Y,b3Colors,1.3);
addSeries(10,b4T,b4Series,b4Colors,1.5);
addSeries(11,b5T,b5Series,b5Colors,1.5,'spline');
addSeries(12,b6T,b6Series,b6Colors,1.5,'spline');

const panels=[
  {n:1,r:0,c:0,xr:[0,1090],xt:tA1x,xl:tA1xL,yr:[-3,3],yt:tA12y,yl:tA12yL},
  {n:2,r:0,c:1,xr:[0,1700],xt:tA2x,xl:tA2xL,yr:[-3,3],yt:tA12y,yl:tA12yL},
  {n:3,r:0,c:2,xr:[0,1600],xt:tA2x,xl:tA2xL,yr:[-1.5,1.5],yt:tA3y,yl:tA3yL},
  {n:4,r:1,c:0,xr:[300,1000],xt:tA4x,xl:tA4xL,yr:[-0.3,0.3],yt:tA4y,yl:tA4yL},
  {n:5,r:1,c:1,xr:[700,1600],xt:tA5x,xl:tA5xL,yr:[-0.1,0.2],yt:tA5y,yl:tA5yL},
  {n:6,r:1,c:2,xr:[400,1300],xt:tA6x,xl:tA6xL,yr:[-0.1,0.1],yt:tA6y,yl:tA6yL},
  {n:7,r:2,c:0,xr:[-50,700],xt:tB1x,xl:tB1xL,yr:[-2,1],yt:tB1y,yl:tB1yL},
  {n:8,r:2,c:1,xr:[-50,700],xt:tB1x,xl:tB1xL,yr:[-0.09,0.05],yt:tB2y,yl:tB2yL},
  {n:9,r:2,c:2,xr:[-50,700],xt:tB1x,xl:tB1xL,yr:[-8,4],yt:tB3y,yl:tB3yL},
  {n:10,r:3,c:0,xr:[250,550],xt:tB4x,xl:tB4xL,yr:[-4,6],yt:tB4y,yl:tB4yL},
  {n:11,r:3,c:1,xr:[300,600],xt:tB5x,xl:tB5xL,yr:[-2,4],yt:tB5y,yl:tB5yL},
  {n:12,r:3,c:2,xr:[300,600],xt:tB5x,xl:tB5xL,yr:[-0.2,0.4],yt:tB6y,yl:tB6yL}
];
const layout={width:W,height:H,margin:{l:0,r:0,t:0,b:0},paper_bgcolor:'#fff',plot_bgcolor:'#fff',
  showlegend:false,font:{family:FONT,color:'#262626',size:14},annotations:[]};
function base(){return {showline:true,linecolor:'#262626',linewidth:1,mirror:'allticks',ticks:'inside',
  ticklen:4,tickwidth:1,tickcolor:'#262626',showgrid:false,zeroline:false,fixedrange:true,
  tickmode:'array',tickfont:{family:FONT,size:14,color:'#262626'}};}
panels.forEach(p=>{
  const xa=base(), ya=base();
  xa.domain=[colPx[p.c][0]/W,colPx[p.c][1]/W]; xa.range=p.xr; xa.tickvals=p.xt; xa.ticktext=p.xl;
  xa.anchor='y'+ax(p.n); xa.ticklabelstandoff=0;
  ya.domain=[1-rowPx[p.r][1]/H,1-rowPx[p.r][0]/H]; ya.range=p.yr; ya.tickvals=p.yt; ya.ticktext=p.yl;
  ya.anchor='x'+ax(p.n); ya.ticklabelstandoff=2;
  layout['xaxis'+ax(p.n)]=xa; layout['yaxis'+ax(p.n)]=ya;
});
function ann(text,xpx,ypx,opts){
  layout.annotations.push(Object.assign({text:text,xref:'paper',yref:'paper',x:xpx/W,y:1-ypx/H,
    xanchor:'center',yanchor:'middle',showarrow:false,font:{family:FONT,size:15,color:'#000'}},opts||{}));
}
// section titles
ann('<b>A</b>',16,16,{xanchor:'left',font:{family:FONT,size:16,color:'#000'}});
ann('<b>Measurements of hiPSC-CMs</b>',49,16,{xanchor:'left',font:{family:FONT,size:26,color:'#000'}});
ann('<b>B</b>',16,505,{xanchor:'left',font:{family:FONT,size:16,color:'#000'}});
ann('<b>Bidomain-base model simulations</b>',49,505,{xanchor:'left',font:{family:FONT,size:26,color:'#000'}});
// panel titles
const colC=colPx.map(c=>(c[0]+c[1])/2);
['Data set 1','Data set 2','Data set 3'].forEach((t,i)=>ann('<b>'+t+'</b>',colC[i],48));
const sig='<span style="font-family:\'Liberation Serif\',serif;font-style:italic;font-weight:normal">σ</span>';
const sigI=['0.4','0.01','0.01'], sigE=['10','10','0.1'];
sigI.forEach((v,i)=>ann(sig+'<b><sub>i</sub> = '+v+' mS/cm</b>',colC[i],542));
sigE.forEach((v,i)=>ann(sig+'<b><sub>e</sub> = '+v+' mS/cm</b>',colC[i],562));
// axis titles
[140,345,661,874].forEach(y=>ann('u<sub>e</sub> (mV)',22,y,{textangle:-90,font:{family:FONT,size:15,color:'#262626'}}));
[456,987].forEach(y=>colC.forEach(x=>ann('t (ms)',x,y,{font:{family:FONT,size:15,color:'#262626'}})));
// exponent labels
ann('×10<sup>-4</sup>',62,785,{xanchor:'left',font:{family:FONT,size:14,color:'#262626'}});
ann('×10<sup>-3</sup>',271,785,{xanchor:'left',font:{family:FONT,size:14,color:'#262626'}});
Plotly.newPlot('chart',traces,layout,{staticPlot:true,displayModeBar:false});
</script></body></html>
